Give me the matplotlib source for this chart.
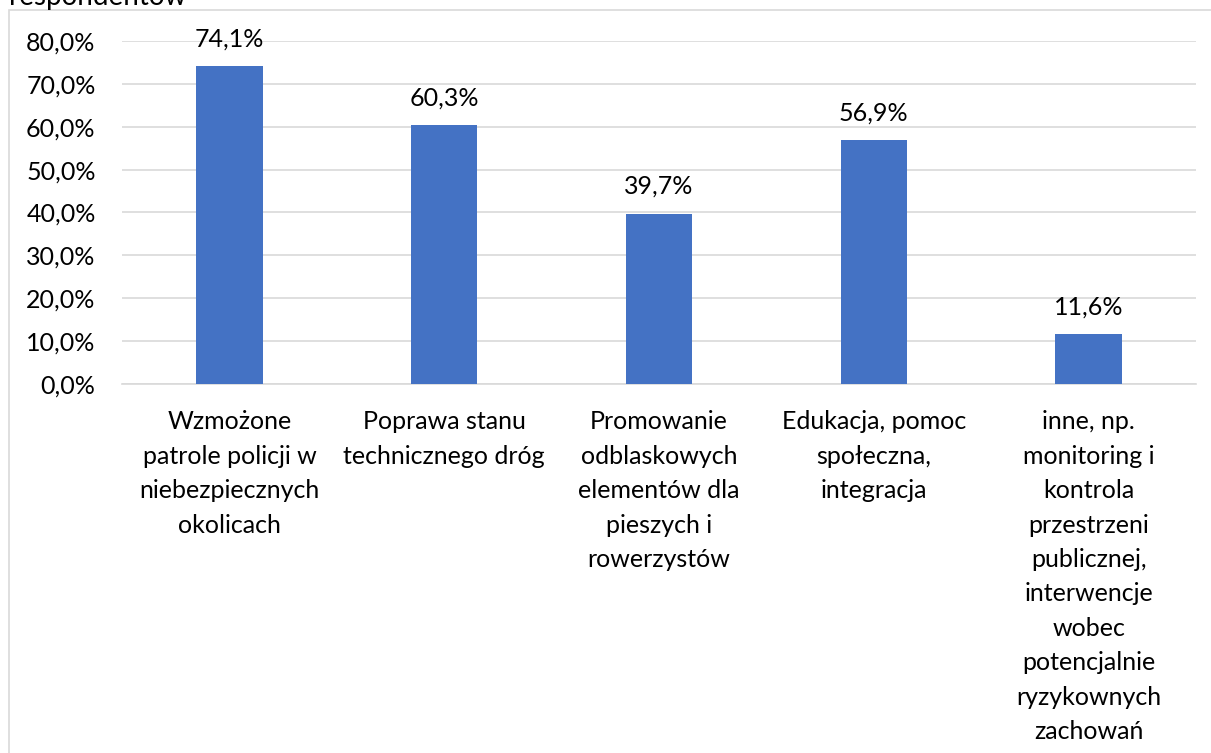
import matplotlib
matplotlib.use("Agg")
import matplotlib.pyplot as plt
from matplotlib.patches import Rectangle

categories = [
    "Wzmożone\npatrole policji w\nniebezpiecznych\nokolicach",
    "Poprawa stanu\ntechnicznego dróg",
    "Promowanie\nodblaskowych\nelementów dla\npieszych i\nrowerzystów",
    "Edukacja, pomoc\nspołeczna,\nintegracja",
    "inne, np.\nmonitoring i\nkontrola\nprzestrzeni\npublicznej,\ninterwencje\nwobec\npotencjalnie\nryzykownych\nzachowań",
]
values = [74.1, 60.3, 39.7, 56.9, 11.6]
yticks = [0, 10, 20, 30, 40, 50, 60, 70, 80]

plt.rcParams['font.family'] = ['Lato', 'DejaVu Sans']
FS = 18
W, H = 1211, 753
fig = plt.figure(figsize=(W / 100, H / 100), dpi=100)

# outer chart frame
fig.patches.append(Rectangle((9 / W, -0.1), 1.2, 1 - 10 / H + 0.1, transform=fig.transFigure,
                             fill=False, edgecolor='#d9d9d9', linewidth=1.2))
# title, cut off at the top of the picture
fig.text(9 / W, 1 - 5 / H, "respondentów", fontsize=20, va='baseline', ha='left')

ax = fig.add_axes([122 / W, 1 - 384 / H, (1196 - 122) / W, (384 - 41) / H])
x = range(len(values))
ax.bar(x, values, width=0.31, color='#4472c4', zorder=3)
for xi, v in zip(x, values):
    ax.text(xi, v + 4.6, f"{v:.1f}%".replace('.', ','), ha='center', va='baseline',
            fontsize=FS, clip_on=False)

ax.set_xlim(-0.5, len(values) - 0.5)
ax.set_ylim(0, 80)
ax.set_yticks(yticks)
ax.set_yticklabels([f"{t:.1f}%".replace('.', ',') for t in yticks], fontsize=FS)
ax.set_xticks(list(x))
ax.set_xticklabels(categories, fontsize=FS, linespacing=1.6, va='top')
ax.grid(axis='y', color='#d9d9d9', linewidth=1.2, zorder=0)
for s in ['top', 'left', 'right']:
    ax.spines[s].set_visible(False)
ax.spines['bottom'].set_color('#d9d9d9')
ax.spines['bottom'].set_linewidth(1.2)
ax.tick_params(axis='both', length=0)
ax.tick_params(axis='y', pad=19)
ax.tick_params(axis='x', pad=19)

fig.savefig("out.png", dpi=100)
